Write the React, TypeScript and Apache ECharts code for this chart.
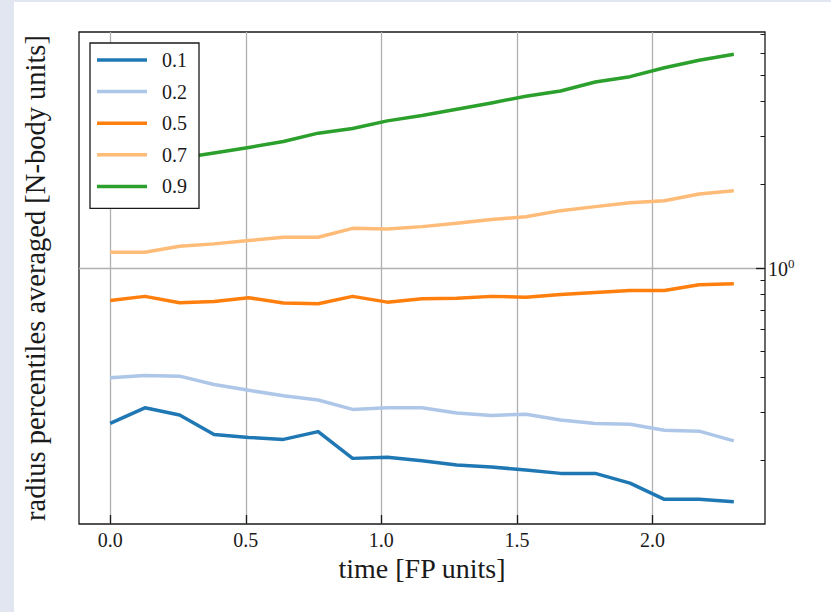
import React, { useEffect, useRef } from "react";
import * as echarts from "echarts";

const times = [0.0, 0.128, 0.256, 0.383, 0.511, 0.639, 0.767, 0.894, 1.022, 1.15, 1.278, 1.406, 1.533, 1.661, 1.789, 1.917, 2.044, 2.172, 2.3];

const seriesNames = ["0.1", "0.2", "0.5", "0.7", "0.9"];
const seriesColors = ["#1f77b4", "#aec7e8", "#ff7f0e", "#ffbb78", "#2ca02c"];

const p10 = [0.273, 0.311, 0.293, 0.249, 0.243, 0.239, 0.255, 0.204, 0.206, 0.2, 0.193, 0.19, 0.185, 0.18, 0.18, 0.166, 0.145, 0.145, 0.142];
const p20 = [0.4, 0.407, 0.405, 0.378, 0.36, 0.344, 0.332, 0.307, 0.311, 0.311, 0.298, 0.292, 0.295, 0.281, 0.273, 0.271, 0.258, 0.256, 0.236];
const p50 = [0.762, 0.788, 0.747, 0.755, 0.779, 0.745, 0.741, 0.788, 0.751, 0.773, 0.776, 0.788, 0.783, 0.801, 0.814, 0.828, 0.828, 0.868, 0.875];
const p70 = [1.139, 1.139, 1.197, 1.221, 1.255, 1.29, 1.29, 1.39, 1.383, 1.41, 1.449, 1.495, 1.532, 1.611, 1.666, 1.722, 1.751, 1.851, 1.903];
const p90 = [2.285, 2.382, 2.494, 2.604, 2.729, 2.868, 3.075, 3.196, 3.407, 3.561, 3.755, 3.957, 4.183, 4.373, 4.713, 4.926, 5.309, 5.645, 5.935];

const xTicks = [0, 0.5, 1.0, 1.5, 2.0];
const yMajorTicks = [1];
const yMinorTicks = [0.2, 0.3, 0.4, 0.5, 0.6, 0.7, 0.8, 0.9, 2, 3, 4, 5, 6, 7];

const xTitle = "time [FP units]";
const yTitle = "radius percentiles averaged [N-body units]";

const FONT = '"Liberation Serif", "Times New Roman", serif';
const INK = "#1a1a1a";
const GRID = "#b0b0b0";

export default function App() {
  const ref = useRef<HTMLDivElement>(null);

  useEffect(() => {
    document.body.style.margin = "0";
    if (!ref.current) return;
    const chart = echarts.init(ref.current, null, { renderer: "svg" });
    const allSeries = [p10, p20, p50, p70, p90];

    const yBase = {
      type: "log" as const,
      logBase: 10,
      position: "right" as const,
      min: 0.118,
      max: 7.15,
      axisLine: { show: false, onZero: false },
    };

    chart.setOption({
      animation: false,
      backgroundColor: "#ffffff",
      textStyle: { fontFamily: FONT },
      graphic: [
        { type: "rect", left: 0, top: 0, shape: { width: 14, height: 612 }, style: { fill: "#e2e6f0" }, silent: true },
        { type: "rect", left: 0, top: 0, shape: { width: 831, height: 2 }, style: { fill: "#e2e6f0" }, silent: true },
        {
          type: "text",
          x: 35,
          y: 278,
          rotation: Math.PI / 2,
          style: {
            text: yTitle,
            fontFamily: FONT,
            fontSize: 28.5,
            fill: INK,
            align: "center",
            verticalAlign: "middle",
          },
        },
      ],
      grid: {
        left: 79,
        top: 32,
        right: 66,
        bottom: 88,
        show: true,
        borderColor: INK,
        borderWidth: 1.3,
        backgroundColor: "#ffffff",
      },
      legend: {
        orient: "vertical",
        left: 90,
        top: 43,
        data: seriesNames,
        icon: "rect",
        itemWidth: 50,
        itemHeight: 3.5,
        itemGap: 11.6,
        padding: [7, 12, 12, 7],
        backgroundColor: "#ffffff",
        borderColor: INK,
        borderWidth: 1.3,
        borderRadius: 0,
        textStyle: {
          fontFamily: FONT,
          fontSize: 20,
          lineHeight: 20,
          color: INK,
          padding: [0, 0, 0, 10],
        },
      },
      xAxis: {
        type: "value",
        min: -0.115,
        max: 2.415,
        axisLine: { show: false, onZero: false },
        axisTick: { inside: true, length: 9, customValues: xTicks, lineStyle: { color: INK, width: 1.3 } },
        axisLabel: {
          customValues: xTicks,
          formatter: (v: number) => v.toFixed(1),
          fontFamily: FONT,
          fontSize: 20,
          color: INK,
          margin: 6,
        },
        splitLine: { show: true, lineStyle: { color: GRID, width: 1.3 } },
        name: xTitle,
        nameLocation: "middle",
        nameGap: 26,
        nameTextStyle: { fontFamily: FONT, fontSize: 28, color: INK },
      },
      yAxis: [
        {
          ...yBase,
          axisTick: { inside: true, length: 4.5, customValues: yMinorTicks, lineStyle: { color: INK, width: 1 } },
          axisLabel: { show: false },
          splitLine: { show: false },
        },
        {
          ...yBase,
          axisTick: { inside: true, length: 9, customValues: yMajorTicks, lineStyle: { color: INK, width: 1.3 } },
          axisLabel: {
            customValues: yMajorTicks,
            margin: 3,
            formatter: () => "{b|10}{s|0}",
            rich: {
              b: { fontFamily: FONT, fontSize: 20, color: INK, verticalAlign: "bottom" },
              s: { fontFamily: FONT, fontSize: 13, color: INK, verticalAlign: "bottom", padding: [0, 0, 9, 0] },
            },
          },
          splitLine: { show: true, lineStyle: { color: GRID, width: 1.3 } },
        },
      ],
      series: allSeries.map((vals, i) => ({
        name: seriesNames[i],
        type: "line",
        yAxisIndex: 0,
        showSymbol: false,
        symbol: "none",
        color: seriesColors[i],
        lineStyle: { width: 3.5, color: seriesColors[i], join: "round" },
        data: times.map((t, j) => [t, vals[j]]),
      })),
    });

    return () => chart.dispose();
  }, []);

  return <div ref={ref} style={{ width: 831, height: 612 }} />;
}
